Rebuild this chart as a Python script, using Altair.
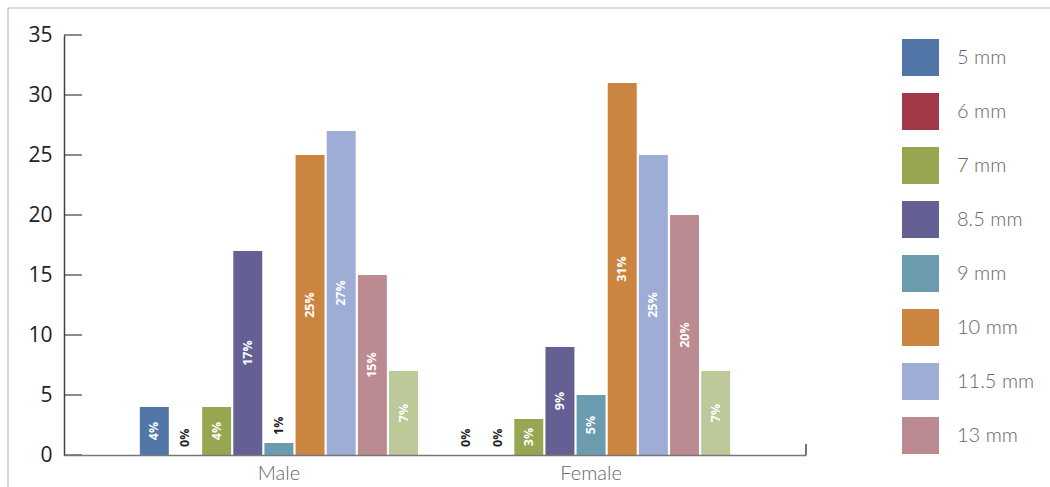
import altair as alt
import pandas as pd

groups = ["Male", "Female"]
sizes = ["5 mm", "6 mm", "7 mm", "8.5 mm", "9 mm", "10 mm", "11.5 mm", "13 mm", "14 mm"]
male_values = [4, 0, 4, 17, 1, 25, 27, 15, 7]
female_values = [0, 0, 3, 9, 5, 31, 25, 20, 7]
colors = ["#5077A8", "#A03A48", "#97A651", "#656094", "#6A9BAF",
          "#CB8540", "#9DADD6", "#BC8B92", "#BDC998"]
legend_sizes = sizes[:8]
y_ticks = [0, 5, 10, 15, 20, 25, 30, 35]

rows = []
for g, vals in zip(groups, [male_values, female_values]):
    for s, v in zip(sizes, vals):
        rows.append({"group": g, "size": s, "value": v, "label": f"{v}%"})
df = pd.DataFrame(rows)
ticks_df = pd.DataFrame({"t": y_ticks})
one = pd.DataFrame({"a": [0]})

x_axis = alt.Axis(title=None, labelFont="Lato", labelFontSize=20, labelFontWeight=300,
                  labelColor="#666", labelPadding=8, ticks=False, domainColor="#777",
                  domainWidth=1.5, labelAngle=0, zindex=1)
x_scale = alt.Scale(paddingInner=0.109, paddingOuter=0.243)
y_scale = alt.Scale(domain=[0, 35], nice=False)
y_axis = alt.Axis(title=None, values=y_ticks, ticks=False, labelFont="Open Sans",
                  labelFontSize=21, labelColor="#222", labelPadding=12,
                  domainColor="#444", domainWidth=1.5, grid=False, zindex=1)

X = alt.X("group:N", sort=groups, scale=x_scale, axis=x_axis)
XO = alt.XOffset("size:N", sort=sizes, scale=alt.Scale(paddingInner=0.07))

bars = alt.Chart(df).mark_bar().encode(
    x=X, xOffset=XO,
    y=alt.Y("value:Q", scale=y_scale, axis=y_axis),
    color=alt.Color("size:N", sort=sizes,
                    scale=alt.Scale(domain=sizes, range=colors),
                    legend=alt.Legend(values=legend_sizes, orient="none", legendX=838,
                                      legendY=4, title=None, symbolType="square",
                                      symbolSize=1369, symbolStrokeWidth=0,
                                      symbolOpacity=1, labelFont="Lato",
                                      labelFontSize=20, labelFontWeight=300,
                                      labelColor="#666", labelOffset=18,
                                      rowPadding=17, padding=0, labelLimit=200)),
)

big_labels = alt.Chart(df).transform_filter("datum.value >= 2").transform_calculate(
    mid="datum.value / 2"
).mark_text(angle=270, font="Open Sans", fontWeight="bold", fontSize=12.5,
            color="white", align="center", baseline="middle").encode(
    x=X, xOffset=XO,
    y=alt.Y("mid:Q", scale=y_scale, axis=y_axis),
    text="label:N",
)

small_labels = alt.Chart(df).transform_filter("datum.value < 2").mark_text(
    angle=270, font="Open Sans", fontWeight="bold", fontSize=12.5,
    color="#222", align="left", baseline="middle", dx=8).encode(
    x=X, xOffset=XO,
    y=alt.Y("value:Q", scale=y_scale, axis=y_axis),
    text="label:N",
)

tick_rules = alt.Chart(ticks_df).mark_rule(color="#666", strokeWidth=1.5).encode(
    y=alt.Y("t:Q", scale=y_scale, axis=y_axis),
    x=alt.value(0), x2=alt.value(18),
)

end_tick = alt.Chart(one).mark_rule(color="#444", strokeWidth=1.5).encode(
    x=alt.value(742), y=alt.value(409), y2=alt.value(420))
frame_top = alt.Chart(one).mark_rule(color="#bbb", strokeWidth=1.2).encode(
    x=alt.value(-56), x2=alt.value(986), y=alt.value(-27))
frame_left = alt.Chart(one).mark_rule(color="#bbb", strokeWidth=1.2).encode(
    x=alt.value(-56), y=alt.value(-27), y2=alt.value(452))

chart = alt.layer(bars, big_labels, small_labels, tick_rules, end_tick,
                  frame_top, frame_left).properties(
    width=742, height=420,
    background="white",
    autosize=alt.AutoSizeParams(type="none"),
    padding={"left": 64, "top": 35, "right": 244, "bottom": 32},
).configure_view(stroke=None)

chart.save("out.html", embed_options={"renderer": "svg", "actions": False})
